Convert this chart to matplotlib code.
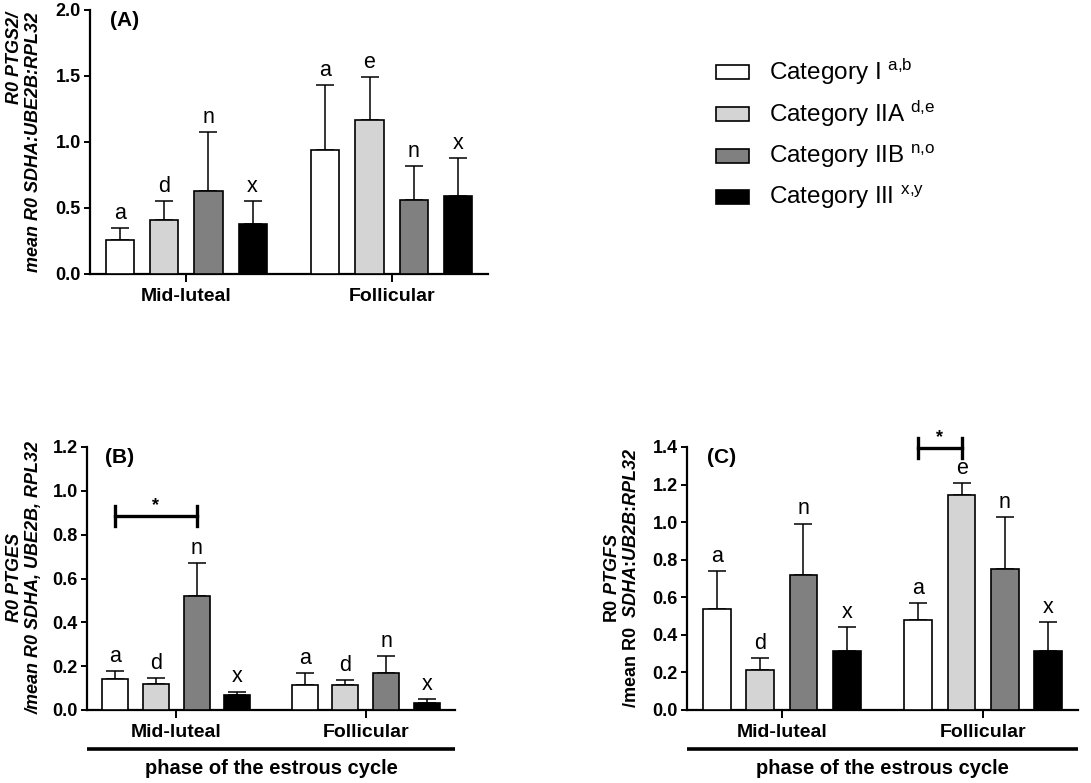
import numpy as np
import matplotlib
matplotlib.use("Agg")
import matplotlib.pyplot as plt
from matplotlib.patches import Rectangle

plt.rcParams['font.family'] = ['Liberation Sans', 'DejaVu Sans']
plt.rcParams['mathtext.fontset'] = 'custom'
# italic digits fall back to rm, so rm is bold italic too
plt.rcParams['mathtext.rm'] = 'Liberation Sans:italic:bold'
plt.rcParams['mathtext.it'] = 'Liberation Sans:italic:bold'
plt.rcParams['mathtext.sf'] = 'Liberation Sans'
plt.rcParams['mathtext.bf'] = 'Liberation Sans:bold'

# ---- data ----
phases = ["Mid-luteal", "Follicular"]
categories = ["Category I", "Category IIA", "Category IIB", "Category III"]
cat_sup = ["a{,}b", "d{,}e", "n{,}o", "x{,}y"]
colors = ["#ffffff", "#d4d4d4", "#808080", "#000000"]

# panel A : PTGS2
a_mean = [[0.26, 0.41, 0.63, 0.38], [0.94, 1.17, 0.56, 0.59]]
a_err = [[0.085, 0.14, 0.445, 0.175], [0.49, 0.32, 0.26, 0.29]]
a_letters = [["a", "d", "n", "x"], ["a", "e", "n", "x"]]

# panel B : PTGES
b_mean = [[0.143, 0.117, 0.52, 0.07], [0.112, 0.114, 0.167, 0.032]]
b_err = [[0.036, 0.027, 0.149, 0.014], [0.058, 0.024, 0.078, 0.018]]
b_letters = [["a", "d", "n", "x"], ["a", "d", "n", "x"]]

# panel C : PTGFS
c_mean = [[0.537, 0.211, 0.721, 0.312], [0.478, 1.143, 0.75, 0.315]]
c_err = [[0.204, 0.064, 0.271, 0.129], [0.093, 0.067, 0.276, 0.155]]
c_letters = [["a", "d", "n", "x"], ["a", "e", "n", "x"]]

W, H = 1091, 783
fig = plt.figure(figsize=(W / 100, H / 100), dpi=100)

def px_axes(l, t, r, b):
    return fig.add_axes([l / W, 1 - b / H, (r - l) / W, (b - t) / H])

offs = np.array([-1.5, -0.5, 0.5, 1.5]) * 0.215
bw = 0.137

def bar_panel(ax, means, errs, letters, ymax, step, tag):
    for g in range(2):
        for k in range(4):
            x = g + offs[k]
            ax.bar(x, means[g][k], bw, color=colors[k], edgecolor='black', linewidth=1.2, zorder=3)
            ax.errorbar(x, means[g][k], yerr=[[0], [errs[g][k]]], fmt='none', ecolor='black',
                        elinewidth=1.1, capsize=6.5, capthick=1.1, zorder=2)
            ax.annotate(letters[g][k], (x, means[g][k] + errs[g][k]), xytext=(0, 3),
                        textcoords='offset points', ha='center', va='bottom', fontsize=15.5)
    ax.set_xlim(-0.47, 1.47)
    ax.set_ylim(0, ymax)
    ax.set_yticks(np.arange(0, ymax + 1e-6, step))
    ax.set_yticklabels(["%.1f" % v for v in np.arange(0, ymax + 1e-6, step)],
                       fontsize=13, fontweight='bold')
    ax.set_xticks([0, 1])
    ax.set_xticklabels(phases, fontsize=14, fontweight='bold')
    for s in ['top', 'right']:
        ax.spines[s].set_visible(False)
    for s in ['left', 'bottom']:
        ax.spines[s].set_linewidth(1.6)
    ax.tick_params(axis='y', length=4.5, width=1.4, pad=2)
    ax.tick_params(axis='x', length=6, width=1.4, pad=4)
    ax.text(0.05, 0.96, tag, transform=ax.transAxes, fontsize=15, fontweight='bold', va='center')

def phase_line(ax):
    ax.plot([0.0, 1.0], [-0.148, -0.148], transform=ax.transAxes, color='black',
            linewidth=2.6, clip_on=False, solid_capstyle='butt')
    ax.text(0.5, -0.222, "phase of the estrous cycle", transform=ax.transAxes, ha='center',
            va='center', fontsize=14.5, fontweight='bold')

def sig_bar(ax, x0, x1, y, cap):
    ax.plot([x0, x1], [y, y], color='black', linewidth=2.4, clip_on=False)
    for xx in (x0, x1):
        ax.plot([xx, xx], [y - cap, y + cap], color='black', linewidth=2.4, clip_on=False)
    ax.text((x0 + x1) / 2, y + cap * 0.2, "*", ha='center', va='bottom', fontsize=13,
            fontweight='bold')

# ---- panel A ----
axA = px_axes(90, 10, 488, 274)
bar_panel(axA, a_mean, a_err, a_letters, 2.0, 0.5, "(A)")
fig.text(24 / W, 1 - 142 / H, "R0 PTGS2/\nmean R0 SDHA:UBE2B:RPL32", rotation=90,
         ha='center', va='center', multialignment='right', fontsize=13,
         fontweight='bold', fontstyle='italic', linespacing=1.2)

# ---- panel B ----
axB = px_axes(87, 447, 455, 710)
bar_panel(axB, b_mean, b_err, b_letters, 1.2, 0.2, "(B)")
sig_bar(axB, offs[0], offs[2], 0.885, 0.045)
phase_line(axB)
fig.text(24 / W, 1 - 578 / H, "R0 PTGES\n/mean R0 SDHA, UBE2B, RPL32", rotation=90,
         ha='center', va='center', multialignment='center', fontsize=13,
         fontweight='bold', fontstyle='italic', linespacing=1.2)

# ---- panel C ----
axC = px_axes(687, 447, 1078, 710)
bar_panel(axC, c_mean, c_err, c_letters, 1.4, 0.2, "(C)")
sig_bar(axC, 1 + offs[0], 1 + offs[1], 1.395, 0.055)
phase_line(axC)
fig.text(622 / W, 1 - 578 / H,
         "R0 $\\mathit{PTGFS}$\n/mean R0  $\\mathit{SDHA}$:$\\mathit{UB2B}$:$\\mathit{RPL32}$",
         rotation=90, ha='center', va='center', multialignment='center', fontsize=13,
         fontweight='bold', linespacing=1.2)

# ---- legend ----
rows_y = [72, 114, 156, 197]
for k in range(4):
    y = rows_y[k]
    fig.add_artist(Rectangle((716 / W, 1 - (y + 7) / H), 33 / W, 14 / H, facecolor=colors[k],
                             edgecolor='black', linewidth=1.2, transform=fig.transFigure))
    fig.text(769 / W, 1 - y / H, categories[k] + " $^{\\mathsf{" + cat_sup[k] + "}}$",
             fontsize=17.5, va='center', ha='left')

fig.savefig("out.png", dpi=100)
